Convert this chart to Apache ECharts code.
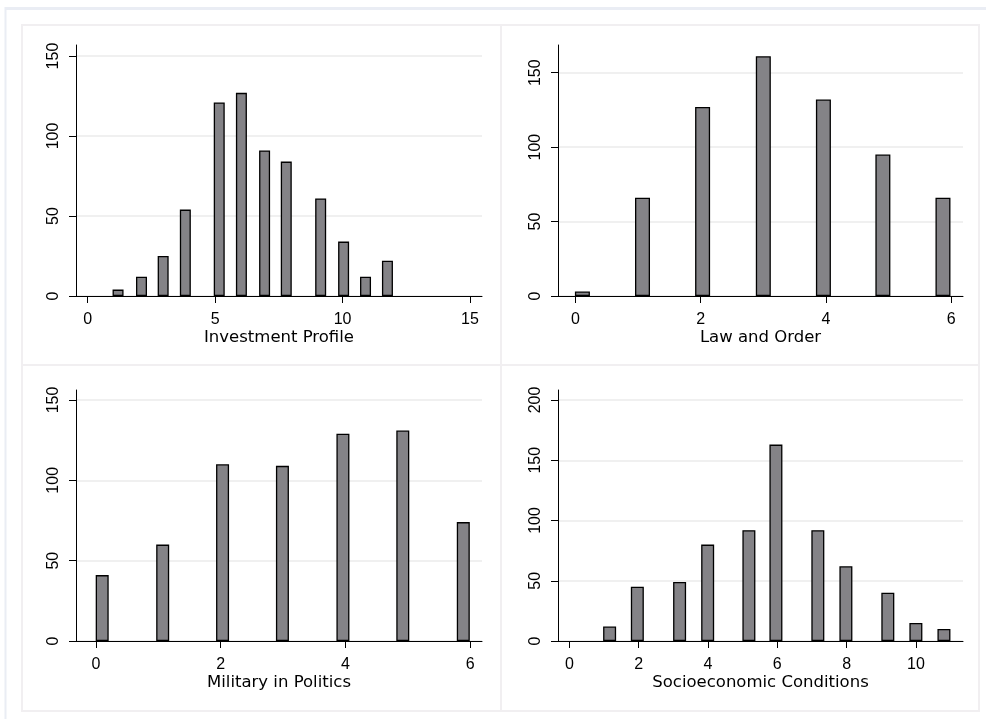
<!DOCTYPE html>
<html>
<head>
<meta charset="utf-8">
<script src="https://cdn.jsdelivr.net/npm/echarts@6/dist/echarts.min.js"></script>
<style>
html,body{margin:0;padding:0;background:#fff;}
#chart{width:986px;height:719px;}
</style>
</head>
<body>
<div id="chart"></div>
<script>
// ---- Data (bar centre, frequency) ----
const investmentX = [1.19, 2.11, 2.96, 3.83, 5.16, 6.03, 6.94, 7.79, 9.14, 10.04, 10.9, 11.76];
const investmentY = [4, 12, 25, 54, 121, 127, 91, 84, 61, 34, 12, 22];
const investmentTicksX = [0, 5, 10, 15];
const investmentTicksY = [0, 50, 100, 150];

const lawX = [0.11, 1.07, 2.03, 3.0, 3.96, 4.91, 5.87];
const lawY = [3, 66, 127, 161, 132, 95, 66];
const lawTicksX = [0, 2, 4, 6];
const lawTicksY = [0, 50, 100, 150];

const militaryX = [0.1, 1.07, 2.03, 2.99, 3.96, 4.92, 5.89];
const militaryY = [41, 60, 110, 109, 129, 131, 74];
const militaryTicksX = [0, 2, 4, 6];
const militaryTicksY = [0, 50, 100, 150];

const socioX = [1.16, 1.96, 3.18, 3.99, 5.18, 5.96, 7.17, 7.98, 9.19, 10.0, 10.81];
const socioY = [12, 45, 49, 80, 92, 163, 92, 62, 40, 15, 10];
const socioTicksX = [0, 2, 4, 6, 8, 10];
const socioTicksY = [0, 50, 100, 150, 200];

const titles = ['Investment Profile', 'Law and Order', 'Military in Politics', 'Socioeconomic Conditions'];

// ---- Layout / style ----
const TICK_FONT = 'Liberation Sans';
const TITLE_FONT = 'DejaVu Sans';
const panels = [
  {x: investmentX, y: investmentY, tx: investmentTicksX, ty: investmentTicksY, title: titles[0],
   grid: {left: 76, top: 45, width: 406, height: 251}, xmin: -0.46, xmax: 15.47, ymax: 156.9, bw: 11},
  {x: lawX, y: lawY, tx: lawTicksX, ty: lawTicksY, title: titles[1],
   grid: {left: 558, top: 45, width: 405, height: 251}, xmin: -0.28, xmax: 6.19, ymax: 168.6, bw: 15},
  {x: militaryX, y: militaryY, tx: militaryTicksX, ty: militaryTicksY, title: titles[2],
   grid: {left: 76, top: 390, width: 406, height: 251}, xmin: -0.32, xmax: 6.19, ymax: 156.2, bw: 13},
  {x: socioX, y: socioY, tx: socioTicksX, ty: socioTicksY, title: titles[3],
   grid: {left: 558, top: 390, width: 405, height: 251}, xmin: -0.33, xmax: 11.36, ymax: 208.3, bw: 13}
];

const grids = [], xAxes = [], yAxes = [], series = [];
panels.forEach((p, i) => {
  grids.push(Object.assign({containLabel: false}, p.grid));
  xAxes.push({
    type: 'value', gridIndex: i, min: p.xmin, max: p.xmax,
    name: p.title, nameLocation: 'middle', nameGap: 27,
    nameTextStyle: {fontFamily: TITLE_FONT, fontSize: 16.5, color: '#000'},
    axisLine: {show: true, onZero: false, lineStyle: {color: '#000', width: 1}},
    axisTick: {show: true, length: 7, inside: false, customValues: p.tx, lineStyle: {color: '#000'}},
    axisLabel: {customValues: p.tx, margin: 16, fontFamily: TICK_FONT, fontSize: 16, color: '#000'},
    splitLine: {show: false}
  });
  yAxes.push({
    type: 'value', gridIndex: i, min: 0, max: p.ymax,
    axisLine: {show: true, onZero: false, lineStyle: {color: '#000', width: 1}},
    axisTick: {show: true, length: 7, inside: false, customValues: p.ty, lineStyle: {color: '#000'}},
    axisLabel: {customValues: p.ty, rotate: 90, margin: 14, fontFamily: TICK_FONT, fontSize: 16, color: '#000'},
    splitLine: {show: true, lineStyle: {color: '#ebebeb', width: 1.5}}
  });
  series.push({
    type: 'bar', xAxisIndex: i, yAxisIndex: i, barWidth: p.bw,
    data: p.x.map((v, k) => [v, p.y[k]]),
    itemStyle: {color: '#848387', borderColor: '#000', borderWidth: 1.3},
    emphasis: {disabled: true}, silent: true
  });
});

// ---- decorative frames ----
const graphic = [
  {type: 'line', shape: {x1: 5, y1: 8.5, x2: 986, y2: 8.5}, style: {stroke: '#eaedf4', lineWidth: 3}, silent: true},
  {type: 'line', shape: {x1: 5.5, y1: 7, x2: 5.5, y2: 719}, style: {stroke: '#eaedf4', lineWidth: 2}, silent: true},
  {type: 'rect', shape: {x: 22, y: 25, width: 479, height: 340}, style: {fill: 'none', stroke: '#f1eff1', lineWidth: 2}, silent: true},
  {type: 'rect', shape: {x: 501, y: 25, width: 478, height: 340}, style: {fill: 'none', stroke: '#f1eff1', lineWidth: 2}, silent: true},
  {type: 'rect', shape: {x: 22, y: 365, width: 479, height: 346}, style: {fill: 'none', stroke: '#f1eff1', lineWidth: 2}, silent: true},
  {type: 'rect', shape: {x: 501, y: 365, width: 478, height: 346}, style: {fill: 'none', stroke: '#f1eff1', lineWidth: 2}, silent: true}
];

const chart = echarts.init(document.getElementById('chart'), null, {renderer: 'canvas'});
chart.setOption({
  animation: false,
  backgroundColor: '#ffffff',
  graphic: graphic,
  grid: grids,
  xAxis: xAxes,
  yAxis: yAxes,
  series: series
});
</script>
</body>
</html>
